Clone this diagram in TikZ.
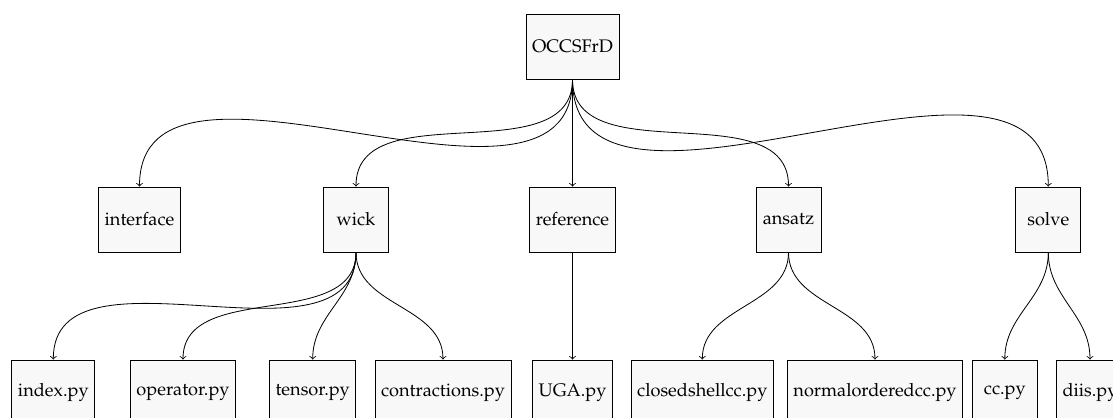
\documentclass[tikz,border=0pt]{standalone}
\usepackage[T1]{fontenc}
\usepackage{mathpazo}
\definecolor{boxfill}{RGB}{248,248,248}
\tikzset{
  modbox/.style={draw, fill=boxfill, line width=0.5pt, minimum height=35.75pt, minimum width=35.75pt, inner sep=3.33pt},
  link/.style={->, line width=0.45pt},
}
\begin{document}
\begin{tikzpicture}[x=0.55pt, y=-0.55pt]
\useasboundingbox (0,0) rectangle (1113,418);
% package root
\node[modbox] (root) at (572.5,46.5) {OCCSFrD};
% subpackages
\node[modbox] (interface) at (139.5,219.5) {interface};
\node[modbox] (wick)      at (356,219.5)   {wick};
\node[modbox] (reference) at (572.5,219.5) {reference};
\node[modbox] (ansatz)    at (788.5,219.5) {ansatz};
\node[modbox] (solve)     at (1048.3,219.5) {solve};
% modules
\node[modbox] (index)        at (53.3,392.5)  {index.py};
\node[modbox] (operator)     at (183,392.5)   {operator.py};
\node[modbox] (tensor)       at (312.7,392.5) {tensor.py};
\node[modbox] (contractions) at (443,392.5)   {contractions.py};
\node[modbox] (uga)          at (572.5,392.5) {UGA.py};
\node[modbox] (closedshell)  at (702.3,392.5) {closedshellcc.py};
\node[modbox] (normalorder)  at (875,392.5)   {normalorderedcc.py};
\node[modbox] (cc)           at (1004.8,392.5) {cc.py};
\node[modbox] (diis)         at (1090,392.5)  {diis.py};
% dependency links
\foreach \child in {interface,wick,reference,ansatz,solve}
  \draw[link] (root.south) to[out=-90,in=90] (\child.north);
\foreach \child in {index,operator,tensor,contractions}
  \draw[link] (wick.south) to[out=-90,in=90] (\child.north);
\draw[link] (reference.south) to[out=-90,in=90] (uga.north);
\foreach \child in {closedshell,normalorder}
  \draw[link] (ansatz.south) to[out=-90,in=90] (\child.north);
\foreach \child in {cc,diis}
  \draw[link] (solve.south) to[out=-90,in=90] (\child.north);
\end{tikzpicture}
\end{document}
